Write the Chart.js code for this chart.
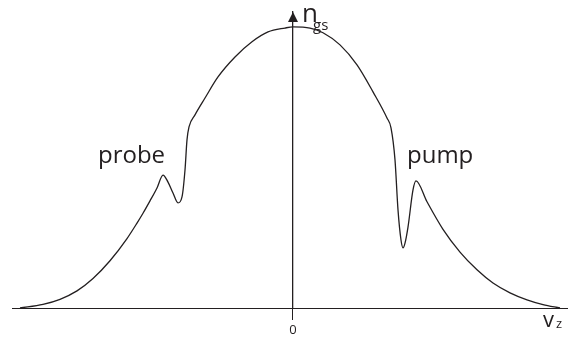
<!DOCTYPE html>
<html>
<head>
<meta charset="utf-8">
<script src="https://cdn.jsdelivr.net/npm/chart.js@4/dist/chart.umd.min.js"></script>
<style>
  html, body { margin: 0; padding: 0; background: #ffffff; }
  #wrap { width: 573px; height: 339px; }
</style>
</head>
<body>
<div id="wrap"><canvas id="c" width="573" height="339"></canvas></div>
<script>
// Ground-state population n_gs versus velocity v_z (arbitrary units),
// with the probe hole (v < 0) and the deeper pump hole (v > 0).
const velocity = [
  -2.73, -2.50, -2.33, -2.16, -2.00, -1.83, -1.66, -1.56, -1.50, -1.43,
  -1.36, -1.30, -1.25, -1.20, -1.15, -1.11, -1.08, -1.06, -1.04, -0.98,
  -0.88, -0.75, -0.58, -0.41, -0.25, -0.08, 0.00, 0.17, 0.30, 0.47,
  0.64, 0.80, 0.94, 0.98, 1.02, 1.05, 1.08, 1.10, 1.12, 1.15,
  1.20, 1.23, 1.34, 1.50, 1.67, 1.84, 2.00, 2.17, 2.34, 2.50, 2.67
];
const population = [
  0.000, 0.013, 0.031, 0.061, 0.105, 0.168, 0.247, 0.302, 0.337, 0.381,
  0.427, 0.473, 0.448, 0.409, 0.374, 0.395, 0.491, 0.598, 0.644, 0.687,
  0.747, 0.822, 0.893, 0.947, 0.982, 0.996, 1.000, 0.996, 0.979, 0.936,
  0.865, 0.769, 0.676, 0.641, 0.527, 0.349, 0.242, 0.214, 0.231, 0.288,
  0.420, 0.452, 0.378, 0.280, 0.199, 0.136, 0.089, 0.054, 0.029, 0.012, 0.000
];
const xTicks = [0];
const xRange = [-2.81, 2.74];
const yRange = [0, 1.053];

const INK = '#231f20';
const FONT = '"Open Sans", "Noto Sans", sans-serif';

// Arrowhead on the n_gs axis and the axis / curve annotations.
const annotate = {
  id: 'annotate',
  afterDraw(chart) {
    const { ctx, scales: { x, y } } = chart;
    const x0 = x.getPixelForValue(0);
    const yTop = y.getPixelForValue(yRange[1]);
    const yBase = y.getPixelForValue(0);
    ctx.save();
    ctx.fillStyle = INK;
    ctx.beginPath();
    ctx.moveTo(x0, yTop);
    ctx.lineTo(x0 - 5, yTop + 10);
    ctx.lineTo(x0 + 5, yTop + 10);
    ctx.closePath();
    ctx.fill();

    ctx.textBaseline = 'alphabetic';
    ctx.textAlign = 'left';
    ctx.font = '26px ' + FONT;
    ctx.fillText('n', x0 + 9, yTop + 10);
    ctx.font = '15px ' + FONT;
    ctx.fillText('gs', x0 + 20, yTop + 18);

    const xr = x.getPixelForValue(xRange[1]);
    ctx.font = '22px ' + FONT;
    ctx.fillText('v', xr - 24, yBase + 19);
    ctx.font = '13px ' + FONT;
    ctx.fillText('z', xr - 11, yBase + 20);

    ctx.font = '24px ' + FONT;
    ctx.fillText('probe', x.getPixelForValue(-1.95), y.getPixelForValue(0.515));
    ctx.fillText('pump', x.getPixelForValue(1.14), y.getPixelForValue(0.515));
    ctx.restore();
  }
};

new Chart(document.getElementById('c'), {
  type: 'line',
  data: {
    labels: velocity,
    datasets: [{
      data: velocity.map((v, i) => ({ x: v, y: population[i] })),
      borderColor: INK,
      borderWidth: 1.3,
      pointRadius: 0,
      fill: false,
      cubicInterpolationMode: 'monotone'
    }]
  },
  options: {
    responsive: false,
    animation: false,
    layout: { padding: { left: 12, right: 6, top: 12, bottom: 0 } },
    plugins: { legend: { display: false }, tooltip: { enabled: false } },
    scales: {
      x: {
        type: 'linear',
        min: xRange[0],
        max: xRange[1],
        afterBuildTicks: s => { s.ticks = xTicks.map(v => ({ value: v })); },
        afterFit: s => { s.height = 31; },
        grid: { display: true, drawOnChartArea: false, drawTicks: true, tickLength: 12, color: INK, lineWidth: 1 },
        border: { display: true, color: INK, width: 1 },
        ticks: { color: INK, padding: 2, font: { family: FONT, size: 13 }, maxRotation: 0, callback: v => String(v) }
      },
      y: {
        type: 'linear',
        min: yRange[0],
        max: yRange[1],
        position: { x: 0 },
        grid: { display: false },
        border: { display: true, color: INK, width: 1.3 },
        ticks: { display: false }
      }
    }
  },
  plugins: [annotate]
});
</script>
</body>
</html>
